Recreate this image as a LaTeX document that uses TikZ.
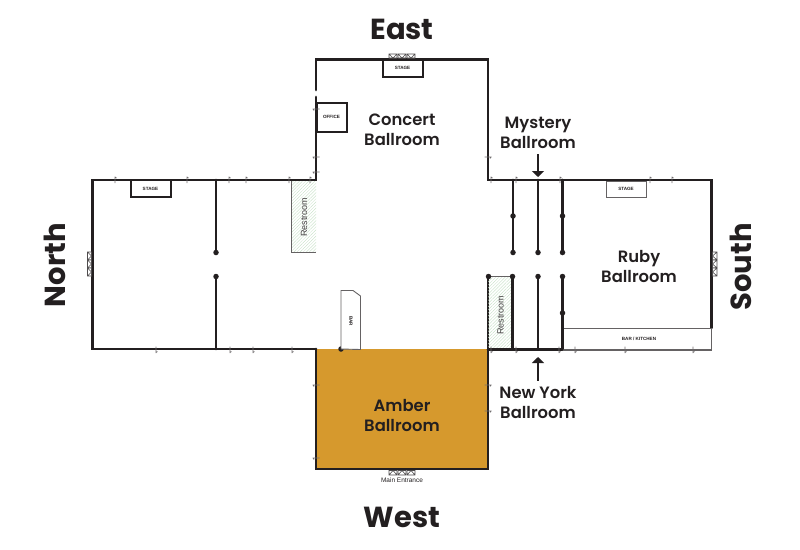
\documentclass[tikz,border=0pt]{standalone}
\usepackage{fontspec}
\setmainfont{Poppins}
\setsansfont{Liberation Sans}
\newfontfamily\roomfont{Poppins SemiBold}
\usetikzlibrary{patterns.meta,arrows.meta}
\definecolor{wallcol}{HTML}{231F20}
\definecolor{ambercol}{HTML}{D6992D}
\definecolor{hatchcol}{HTML}{BFDDBF}
\tikzset{
  wall/.style={draw=wallcol,line width=2.8pt,line cap=round},
  thinwall/.style={draw=wallcol!70,line width=0.9pt},
  stagebox/.style={draw=wallcol,line width=2pt,fill=white},
  tick/.style={draw=wallcol!65,line width=0.7pt},
  doorglyph/.style={draw=wallcol!80,line width=0.6pt,fill=white},
  pin/.style={circle,fill=wallcol,inner sep=0pt,minimum size=5.5pt},
  roomlabel/.style={font=\roomfont\fontsize{16.4}{20}\selectfont,text=wallcol,align=center,text depth=0pt},
  sidelabel/.style={font=\fontsize{29}{32}\selectfont\bfseries,text=wallcol},
  tinylabel/.style={font=\sffamily\bfseries\fontsize{4.6}{5}\selectfont,text=wallcol},
  restlabel/.style={font=\sffamily\fontsize{9}{10}\selectfont,text=wallcol!85,rotate=90},
  hatch/.style={pattern={Lines[angle=45,distance=2.2pt,line width=0.3pt]},pattern color=hatchcol},
  arrowline/.style={draw=wallcol,line width=1.8pt,-{Triangle[length=6pt,width=12pt]}}
}
\begin{document}
\begin{tikzpicture}[x=1pt,y=-1pt]
\useasboundingbox (0,0) rectangle (800,549);

% amber room
\fill[ambercol] (316,349) rectangle (488,469);
\draw[wall] (316,349) -- (316,469) -- (488,469) -- (488,276);

% restrooms
\fill[hatch] (291.5,180) rectangle (316,252.5);
\draw[thinwall] (291.5,180) -- (291.5,252.5) -- (316,252.5);
\fill[hatch] (488,276.5) rectangle (512.5,349);
\draw[thinwall] (488,276.5) -- (512.5,276.5);
\node[restlabel] (restnorth) at (304,217) {Restroom};
\node[restlabel] (restsouth) at (500.5,315) {Restroom};

% outer walls
\draw[wall] (316,90) -- (316,59.5) -- (488,59.5) -- (488,180) -- (562.5,180);
\draw[wall] (316,97) -- (316,180) -- (92.5,180) -- (92.5,349) -- (316,349);
\draw[wall] (562.5,180) -- (711.5,180) -- (711.5,328);
\draw[wall] (488,349.5) -- (562.5,349.5);
\draw[thinwall,line width=1.2pt] (562.5,328.5) -- (711.5,328.5) -- (711.5,350) -- (562.5,350);

% inner walls
\draw[wall] (216,180) -- (216,252.5) (216,276.5) -- (216,349);
\draw[wall] (513,180) -- (513,252.5) (512.5,276.5) -- (512.5,349);
\draw[wall] (538,180) -- (538,252.5) (538,276.5) -- (538,349);
\draw[wall] (562.5,180) -- (562.5,252.5) (562.5,276.5) -- (562.5,349);

\node[pin] (p1) at (216,252.5) {};
\node[pin] (p2) at (216,276.5) {};
\node[pin] (p3) at (513,216) {};
\node[pin] (p4) at (513,252.5) {};
\node[pin] (p5) at (538,252.5) {};
\node[pin] (p6) at (562.5,216) {};
\node[pin] (p7) at (562.5,252.5) {};
\node[pin] (p8) at (488.5,276.5) {};
\node[pin] (p9) at (512.5,276.5) {};
\node[pin] (p10) at (538,276.5) {};
\node[pin] (p11) at (562.5,276.5) {};
\node[pin] (p12) at (562.5,313) {};
\node[pin] (p13) at (341,349) {};

% stages
\draw[stagebox] (382.5,60) rectangle (422.5,76.5);
\draw[stagebox] (130.5,180) rectangle (170.5,196.5);
\draw[thinwall,fill=white] (606.5,181.5) rectangle (646,197);
\draw[stagebox] (317,102.5) rectangle (346.5,132);
\draw[thinwall,fill=white] (341,349) -- (341,290.5) -- (353,290.5) -- (360.5,296) -- (360.5,349.5) -- cycle;
\node[tinylabel] (stagee) at (402.5,68) {STAGE};
\node[tinylabel] (stagen) at (150.5,188.5) {STAGE};
\node[tinylabel] (stages) at (626,188.5) {STAGE};
\node[tinylabel] (office) at (331.5,117) {OFFICE};
\node[tinylabel,rotate=-90] (bar) at (351,321) {BAR};
\node[tinylabel] (kitchen) at (639,339) {BAR / KITCHEN};

% door marks
\foreach \x in {115,187,229,246,289,310,491,516,560,650,672}
  \draw[tick] (\x,176.5) -- (\x,183) (\x,177) -- (\x+1.5,178);
\foreach \x in {156,230,253,292,491,516,559,575,625,693}
  \draw[tick] (\x,346.5) -- (\x,353) (\x,352.5) -- (\x+1.5,351.5);
\foreach \y in {109,157,172,385,458}
  \draw[tick] (312.5,\y) -- (319.5,\y) (313,\y) -- (314,\y+1.5);
\foreach \y in {157,385,411}
  \draw[tick] (484.5,\y) -- (491.5,\y) (491,\y) -- (490,\y+1.5);

% double doors
\foreach \x in {389,398,407}
  \draw[doorglyph] (\x,54) -- (\x+8,54) -- (\x+8,58) -- (\x,58) -- cycle (\x,54) -- (\x+4,58) -- (\x+8,54);
\foreach \x in {389,398,407}
  \draw[doorglyph] (\x,470.5) -- (\x+8,470.5) -- (\x+8,475) -- (\x,475) -- cycle (\x,475) -- (\x+4,470.5) -- (\x+8,475);
\foreach \y in {252,260,268}
  \draw[doorglyph] (87.5,\y) -- (87.5,\y+8) -- (91.5,\y+8) -- (91.5,\y) -- cycle (87.5,\y) -- (91.5,\y+4) -- (87.5,\y+8);
\foreach \y in {252,260,268}
  \draw[doorglyph] (712.5,\y) -- (712.5,\y+8) -- (717,\y+8) -- (717,\y) -- cycle (717,\y) -- (712.5,\y+4) -- (717,\y+8);

% labels
\node[sidelabel] (east) at (402,29) {East};
\node[sidelabel] (west) at (402,517) {West};
\node[sidelabel,rotate=90] (north) at (55,265) {North};
\node[sidelabel,rotate=90] (south) at (741,267) {South};
\node[roomlabel] (concert) at (402,129.5) {Concert\\Ballroom};
\node[roomlabel] (mystery) at (538,133) {Mystery\\Ballroom};
\node[roomlabel] (ruby) at (639,266.5) {Ruby\\Ballroom};
\node[roomlabel] (newyork) at (538,402.5) {New York\\Ballroom};
\node[roomlabel] (amber) at (402,415.5) {Amber\\Ballroom};
\node[font=\sffamily\fontsize{6.5}{8}\selectfont,text=wallcol] (entrance) at (402,480.5) {Main Entrance};

% arrows
\coordinate (mysterytip) at (538,177);
\coordinate (newyorktip) at (538,357);
\draw[arrowline] (mystery.south) ++(0,2) -- (mysterytip);
\draw[arrowline] (newyork.north) ++(0,-2) -- (newyorktip);
\end{tikzpicture}
\end{document}
